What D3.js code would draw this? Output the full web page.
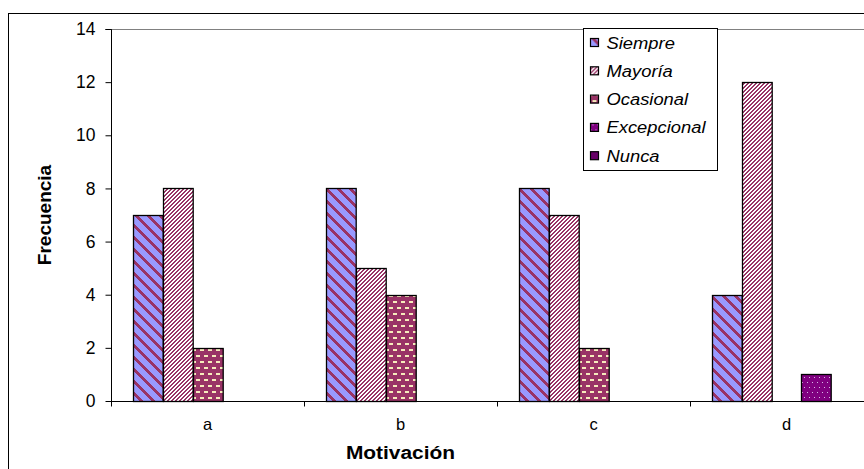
<!DOCTYPE html>
<html>
<head>
<meta charset="utf-8">
<script src="https://cdn.jsdelivr.net/npm/d3@7"></script>
<style>
  html, body { margin: 0; padding: 0; background: #fff; }
  svg { display: block; font-family: "Liberation Sans", Arial, sans-serif; }
</style>
</head>
<body>
<svg id="chart" width="864" height="469"></svg>
<script>
// Response categories and their frequencies per motivation item
const categories = ["a", "b", "c", "d"];
const seriesNames = ["Siempre", "Mayoría", "Ocasional", "Excepcional", "Nunca"];
const siempre     = [7, 8, 8, 4];
const mayoria     = [8, 5, 7, 12];
const ocasional   = [2, 4, 2, 0];
const excepcional = [0, 0, 0, 1];
const nunca       = [0, 0, 0, 0];
const yTicks = [0, 2, 4, 6, 8, 10, 12, 14];

const seriesValues = [siempre, mayoria, ocasional, excepcional, nunca];
const patternIds = ["p-siempre", "p-mayoria", "p-ocasional", "p-excepcional", "p-nunca"];

const svg = d3.select("#chart");
const W = 864, H = 469;
const plot = { left: 111, top: 29, right: 883, bottom: 401 };

// Fill patterns built from single pixels so they stay crisp
const defs = svg.append("defs");
function pixelPattern(id, w, h, bg, fg, test) {
  const p = defs.append("pattern")
    .attr("id", id).attr("patternUnits", "userSpaceOnUse")
    .attr("width", w).attr("height", h);
  p.append("rect").attr("width", w).attr("height", h).attr("fill", bg);
  let d = "";
  for (let y = 0; y < h; y++)
    for (let x = 0; x < w; x++)
      if (test(x, y)) d += `M${x},${y}h1v1h-1z`;
  p.append("path").attr("d", d).attr("fill", fg).attr("shape-rendering", "crispEdges");
}
// wide downward diagonal stripes
pixelPattern("p-siempre", 12, 12, "#9999ff", "#993366", (x, y) => ((x - y) % 12 + 12) % 12 < 4);
// narrow upward diagonal stripes
pixelPattern("p-mayoria", 4, 4, "#ffffff", "#993366", (x, y) => (x + y) % 4 < 2);
// staggered rows of light dashes
pixelPattern("p-ocasional", 8, 12, "#993366", "#f6ecbc", (x, y) =>
  ((y === 1 || y === 2) && x >= 1 && x <= 4) || ((y === 7 || y === 8) && (x >= 5 || x === 0)));
// small dots
pixelPattern("p-excepcional", 10, 10, "#800080", "#d8b8e8", (x, y) =>
  (y === 2 && x === 2) || (y === 2 && x === 7) || (y === 7 && x === 4) || (y === 7 && x === 9));
defs.append("pattern").attr("id", "p-nunca").attr("patternUnits", "userSpaceOnUse")
  .attr("width", 4).attr("height", 4)
  .append("rect").attr("width", 4).attr("height", 4).attr("fill", "#660066");

// Outer frame
svg.append("rect").attr("x", 8.5).attr("y", 13.5).attr("width", W).attr("height", H)
  .attr("fill", "none").attr("stroke", "#000").attr("stroke-width", 1);

// Scales
const x0 = d3.scaleBand().domain(categories).range([plot.left, plot.right]).paddingInner(0).paddingOuter(0);
const x1 = d3.scaleBand().domain(seriesNames).range([0, x0.bandwidth()]).paddingInner(0).paddingOuter(0.75);
const y = d3.scaleLinear().domain([0, 14]).range([plot.bottom, plot.top]);

// Plot area top border
svg.append("line").attr("x1", plot.left).attr("x2", W).attr("y1", plot.top + 0.5).attr("y2", plot.top + 0.5)
  .attr("stroke", "#808080").attr("stroke-width", 1);

// Bars
const groups = svg.append("g").selectAll("g").data(categories).join("g")
  .attr("transform", d => `translate(${x0(d)},0)`);
groups.selectAll("rect")
  .data((c, ci) => seriesNames.map((s, si) => ({ s, si, v: seriesValues[si][ci] })).filter(d => d.v > 0))
  .join("rect")
  .attr("x", d => Math.round(x1(d.s)) + 0.5)
  .attr("y", d => Math.round(y(d.v)) + 0.5)
  .attr("width", x1.bandwidth())
  .attr("height", d => y(0) - Math.round(y(d.v)))
  .attr("fill", d => `url(#${patternIds[d.si]})`)
  .attr("stroke", "#000").attr("stroke-width", 1.3);

// Y axis
const yAxis = svg.append("g").attr("transform", `translate(${plot.left + 0.5},0)`)
  .call(d3.axisLeft(y).tickValues(yTicks).tickSize(6).tickPadding(10).tickFormat(d3.format("d")));
yAxis.select(".domain").attr("stroke", "#000").attr("d", `M-6,${plot.top + 0.5}H0V${plot.bottom + 0.5}`);
yAxis.selectAll("line").attr("stroke", "#000");
yAxis.selectAll("text").attr("font-size", 17.5).attr("fill", "#000")
  .attr("font-family", "Liberation Sans, Arial, sans-serif");

// X axis with ticks between categories
const xAxis = svg.append("g").attr("transform", `translate(0,${plot.bottom + 0.5})`);
xAxis.append("line").attr("x1", plot.left).attr("x2", W).attr("stroke", "#000");
const bounds = categories.map(c => x0(c)).concat([plot.right]);
xAxis.selectAll("line.tick").data(bounds).join("line").attr("class", "tick")
  .attr("x1", d => Math.round(d) + 0.5).attr("x2", d => Math.round(d) + 0.5)
  .attr("y1", 0).attr("y2", 5).attr("stroke", "#000");
xAxis.selectAll("text").data(categories).join("text")
  .attr("x", d => x0(d) + x0.bandwidth() / 2).attr("y", 28.5)
  .attr("text-anchor", "middle").attr("font-size", 16.5).text(d => d);

// Axis titles
const xTitleX = x0("b") + x0.bandwidth() / 2;
svg.append("text").attr("transform", `translate(${xTitleX},459) scale(1.1,1)`)
  .attr("text-anchor", "middle").attr("font-size", 19).attr("font-weight", "bold").text("Motivación");
svg.append("text").attr("transform", `translate(51,215) rotate(-90)`)
  .attr("text-anchor", "middle").attr("font-size", 19).attr("font-weight", "bold").text("Frecuencia");

// Legend
const legend = svg.append("g").attr("transform", "translate(583.5,28.5)");
legend.append("rect").attr("width", 134).attr("height", 142)
  .attr("fill", "#fff").attr("stroke", "#000").attr("stroke-width", 1);
const items = legend.selectAll("g").data(seriesNames).join("g")
  .attr("transform", (d, i) => `translate(0,${14 + i * 28.3})`);
items.append("rect").attr("x", 7).attr("y", -4).attr("width", 8).attr("height", 8)
  .attr("fill", (d, i) => `url(#${patternIds[i]})`).attr("stroke", "#000").attr("stroke-width", 1.2);
items.append("text").attr("transform", "translate(23,6) scale(1.08,1)")
  .attr("font-size", 17).attr("font-style", "italic")
  .text(d => d);
</script>
</body>
</html>
